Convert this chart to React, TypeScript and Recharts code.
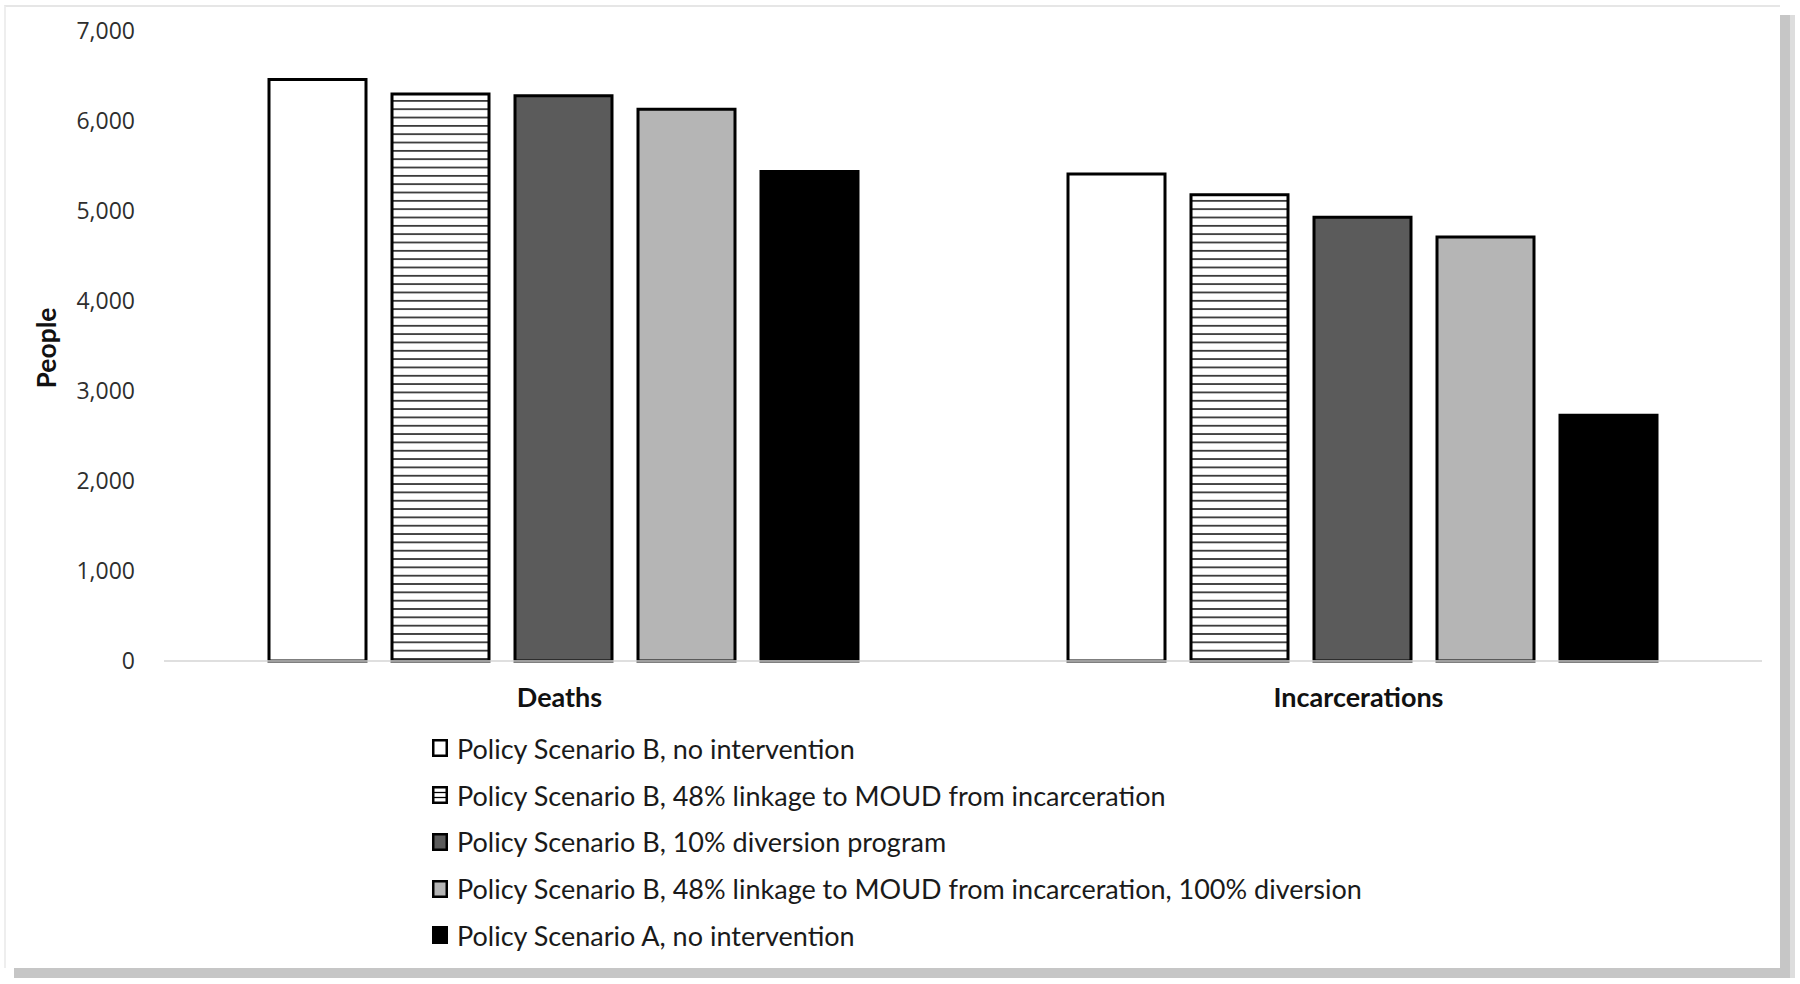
import { BarChart, Bar, XAxis, YAxis, Legend } from 'recharts';

const categories = ['Deaths', 'Incarcerations'];

const scenarioBNoIntervention = [6460, 5410];
const scenarioBLinkage = [6300, 5180];
const scenarioBDiversion = [6280, 4930];
const scenarioBLinkageDiversion = [6130, 4710];
const scenarioANoIntervention = [5440, 2730];

const seriesNames = [
  'Policy Scenario B, no intervention',
  'Policy Scenario B, 48% linkage to MOUD from incarceration',
  'Policy Scenario B, 10% diversion program',
  'Policy Scenario B, 48% linkage to MOUD from incarceration, 100% diversion',
  'Policy Scenario A, no intervention',
];

const yTicks = [0, 1000, 2000, 3000, 4000, 5000, 6000, 7000];

const seriesValues = [
  scenarioBNoIntervention,
  scenarioBLinkage,
  scenarioBDiversion,
  scenarioBLinkageDiversion,
  scenarioANoIntervention,
];

const fills = ['#ffffff', 'url(#stripes)', '#5b5b5b', '#b5b5b5', '#000000'];

const data = categories.map((name, i) => {
  const row: any = { name };
  seriesValues.forEach((vals, s) => {
    row['s' + s] = vals[i];
  });
  return row;
});

const legendFont = 'Lato, "Open Sans", sans-serif';

function Swatch({ index }: { index: number }) {
  return (
    <svg width={16} height={18} style={{ display: 'block' }}>
      <rect x={1.25} y={1.25} width={13.5} height={15.5} fill={index === 1 ? '#fff' : fills[index]} stroke="#000" strokeWidth={2.5} />
      {index === 1 && (
        <>
          <line x1={2} x2={14} y1={6.5} y2={6.5} stroke="#000" strokeWidth={1.3} />
          <line x1={2} x2={14} y1={11.5} y2={11.5} stroke="#000" strokeWidth={1.3} />
        </>
      )}
    </svg>
  );
}

function LegendContent() {
  return (
    <div style={{ fontFamily: legendFont, fontSize: 27, color: '#1a1a1a' }}>
      {seriesNames.map((name, i) => (
        <div key={name} style={{ display: 'flex', alignItems: 'center', height: 46.75 }}>
          <Swatch index={i} />
          <span style={{ marginLeft: 9, whiteSpace: 'nowrap' }}>{name}</span>
        </div>
      ))}
    </div>
  );
}

export default function App() {
  return (
    <div
      style={{
        position: 'fixed',
        top: 0,
        left: 0,
        width: 1800,
        height: 984,
        background: '#fff',
        overflow: 'hidden',
      }}
    >
      {/* picture frame with grey shadow at right and bottom */}
      <div
        style={{
          position: 'absolute',
          left: 4,
          top: 5,
          width: 1776,
          height: 963,
          borderTop: '2px solid #e6e6e6',
          borderLeft: '2px solid #eeeeee',
          boxSizing: 'border-box',
          boxShadow: '10px 10px 0 #c6c6c6, 15px 10px 0 #dddddd',
          background: '#fff',
        }}
      />
      <div style={{ position: 'absolute', left: 0, top: 0 }}>
        <BarChart
          width={1800}
          height={984}
          data={data}
          margin={{ top: 31, right: 38, left: 0, bottom: 263 }}
          barCategoryGap={105}
          barGap={26}
        >
          <defs>
            <pattern id="stripes" patternUnits="userSpaceOnUse" width={10} height={8.33}>
              <rect x={0} y={0} width={10} height={8.33} fill="#ffffff" />
              <rect x={0} y={0} width={10} height={1.8} fill="#3a3a3a" />
            </pattern>
          </defs>
          <XAxis
            dataKey="name"
            height={60}
            tickLine={false}
            tickSize={0}
            tickMargin={27}
            axisLine={{ stroke: '#d4d4d4', strokeWidth: 1.5 }}
            tick={{ fontFamily: legendFont, fontWeight: 700, fontSize: 27, fill: '#111', dx: -4 }}
          />
          <YAxis
            width={164}
            domain={[0, 7000]}
            ticks={yTicks}
            interval={0}
            axisLine={false}
            tickLine={false}
            tickSize={0}
            tickMargin={29}
            tickFormatter={(v: number) => v.toLocaleString('en-US')}
            tick={{ fontFamily: '"Open Sans", sans-serif', fontSize: 23, fill: '#2e2e2e' }}
            label={{
              content: ({ viewBox }: any) => (
                <text
                  x={46}
                  y={viewBox.y + viewBox.height / 2 + 2}
                  transform={`rotate(-90, 46, ${viewBox.y + viewBox.height / 2 + 2})`}
                  textAnchor="middle"
                  dominantBaseline="central"
                  fontFamily={legendFont}
                  fontWeight={700}
                  fontSize={26.5}
                  fill="#111"
                >
                  People
                </text>
              ),
            }}
          />
          <Legend
            layout="vertical"
            align="center"
            verticalAlign="middle"
            content={() => <LegendContent />}
            wrapperStyle={{ left: 432, top: 725, width: 1100, height: 240 }}
          />
          {seriesNames.map((name, i) => (
            <Bar
              key={name}
              dataKey={'s' + i}
              name={name}
              fill={fills[i]}
              stroke="#000"
              strokeWidth={3}
              isAnimationActive={false}
            />
          ))}
        </BarChart>
      </div>
    </div>
  );
}
